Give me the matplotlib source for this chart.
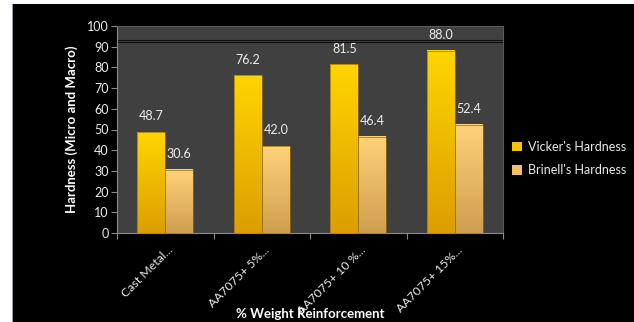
import numpy as np
import matplotlib
matplotlib.use("Agg")
import matplotlib.pyplot as plt
from matplotlib.colors import LinearSegmentedColormap
from matplotlib.patches import Rectangle
import matplotlib.transforms as mtransforms

##################################################
## Data
##################################################
categories = ["Cast Metal...", "AA7075+ 5%...", "AA7075+ 10 %...", "AA7075+ 15%..."]
vickers = [48.7, 76.2, 81.5, 88.0]
brinell = [30.6, 42.0, 46.4, 52.4]
series_names = ["Vicker's Hardness", "Brinell's Hardness"]

##################################################
## Style
##################################################
plt.rcParams['font.family'] = ['Lato', 'DejaVu Sans']
txt_col = "#ececec"
bg_col = "#404040"
axis_col = "#8a8a8a"

fig = plt.figure(figsize=(6.34, 3.22), dpi=100, facecolor="white")
# black chart area (white strip on left and top)
fig.patches.append(Rectangle((13 / 634, 0), 1, 1 - 4 / 322, transform=fig.transFigure,
                             facecolor="black", edgecolor="none", zorder=-2))
fig.patches.append(Rectangle((12 / 634, 0), 1 / 634, 1 - 4 / 322, transform=fig.transFigure,
                             facecolor="#9a9aa6", edgecolor="none", zorder=-2))

ax = fig.add_axes([117 / 634, 1 - 233 / 322, (503 - 117) / 634, (233 - 26) / 322])
ax.set_zorder(2)
ax.set_facecolor(bg_col)

x = np.arange(len(categories))
w = 0.29
b1 = ax.bar(x - w / 2, vickers, w, color="#f5c400", edgecolor="none",
            label=series_names[0], zorder=2)
b2 = ax.bar(x + w / 2, brinell, w, color="#f5c060", edgecolor="none",
            label=series_names[1], zorder=2)

# gradient fill over the bars
cm1 = LinearSegmentedColormap.from_list("v", ["#dc9e00", "#ffd500"])
cm2 = LinearSegmentedColormap.from_list("b", ["#cf9e50", "#ffd27a"])
grad = np.linspace(0, 1, 256).reshape(-1, 1)
for bars, cm in [(b1, cm1), (b2, cm2)]:
    for p in bars:
        x0, h, bw = p.get_x(), p.get_height(), p.get_width()
        ax.imshow(grad, extent=[x0, x0 + bw, 0, h], origin="lower", cmap=cm,
                  aspect="auto", zorder=2.5)
        ax.add_patch(Rectangle((x0, 0), bw, h, facecolor="none", edgecolor="#9a7000",
                               linewidth=0.5, zorder=3))

# data labels
for bars, vals in [(b1, vickers), (b2, brinell)]:
    for p, v in zip(bars, vals):
        ax.annotate("%.1f" % v, (p.get_x() + p.get_width() / 2, p.get_height()),
                    xytext=(0, 7), textcoords="offset points", ha="center",
                    va="bottom", color=txt_col, fontsize=9, zorder=4)

# odd double line near the top
ax.axhline(93.1, color="#101010", lw=0.8, zorder=1)
ax.axhline(92.2, color="#101010", lw=0.8, zorder=1)

ax.set_xlim(-0.5, len(categories) - 0.5)
ax.set_ylim(0, 100)
ax.set_yticks(np.arange(0, 101, 10))
ax.tick_params(axis="y", colors=axis_col, labelcolor=txt_col, labelsize=9,
               length=4, width=0.8, pad=2)

# tick marks at category boundaries, labels at centres
ax.set_xticks(np.arange(-0.5, len(categories), 1))
ax.set_xticklabels([])
ax.set_xticks(x, minor=True)
ax.set_xticklabels(categories, minor=True, rotation=45, ha="right",
                   rotation_mode="anchor", color=txt_col, fontsize=8.8)
ax.tick_params(axis="x", which="major", colors=axis_col, length=4, width=0.8)
ax.tick_params(axis="x", which="minor", length=0, pad=8)
offset = mtransforms.ScaledTranslation(2 / 100, 0, fig.dpi_scale_trans)
for lab in ax.get_xticklabels(minor=True):
    lab.set_transform(lab.get_transform() + offset)

for s in ax.spines.values():
    s.set_color("#5a5a5a")
    s.set_linewidth(0.8)
ax.spines["left"].set_color(axis_col)
ax.spines["bottom"].set_color(axis_col)

fig.text(72 / 634, 1 - 129 / 322, "Hardness (Micro and Macro)", rotation=90,
         ha="center", va="center", color="white", fontsize=9.5, fontweight="bold")
fig.text(310 / 634, 1 - 314 / 322, "% Weight Reinforcement", ha="center",
         va="center", color="white", fontsize=9.5, fontweight="bold")

leg = fig.legend(handles=[b1, b2], loc="upper left", bbox_to_anchor=(507 / 634, 1 - 136 / 322),
                 frameon=False, fontsize=9, labelcolor=txt_col, handlelength=0.8,
                 handleheight=0.8, handletextpad=0.5, labelspacing=0.9, borderaxespad=0)

plt.savefig("out.png", dpi=100, facecolor=fig.get_facecolor())
